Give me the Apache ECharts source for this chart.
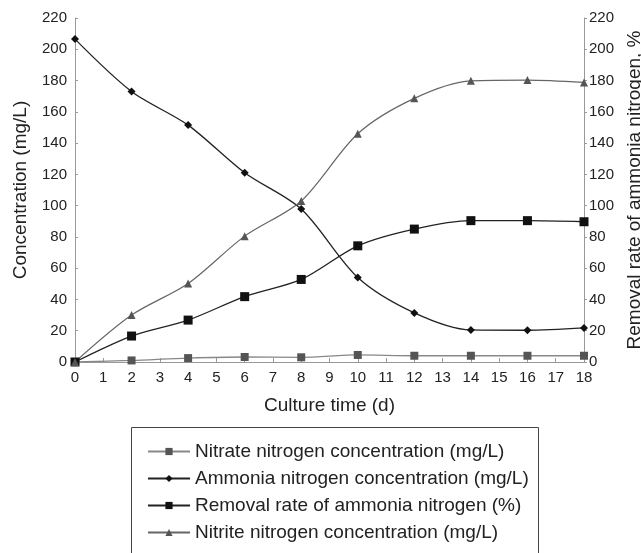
<!DOCTYPE html>
<html><head><meta charset="utf-8">
<script src="https://cdn.jsdelivr.net/npm/echarts@6/dist/echarts.min.js"></script>
<style>html,body{margin:0;padding:0;background:#fff}#c{width:641px;height:553px}</style>
</head><body><div id="c"></div>
<script>
const days = [0, 2, 4, 6, 8, 10, 12, 14, 16, 18];
const nitrate = [0, 1, 2.5, 3.2, 3, 4.5, 4, 4, 4, 4];
const ammonia = [206.5, 173, 151.5, 121, 97.8, 54, 31.4, 20.5, 20.3, 21.8];
const removal = [0, 16.6, 26.8, 41.8, 52.8, 74.3, 85, 90.4, 90.4, 89.7];
const nitrite = [0, 30, 50.2, 80.5, 103, 146, 168.6, 179.8, 180.3, 178.8];
const names = [
  'Nitrate nitrogen concentration (mg/L)',
  'Ammonia nitrogen concentration (mg/L)',
  'Removal rate of ammonia nitrogen (%)',
  'Nitrite nitrogen concentration (mg/L)'
];
const pairs = a => days.map((d, i) => [d, a[i]]);
const font = 'Liberation Sans, Arial, sans-serif';
const axisColor = '#999';
const textColor = '#222';
const chart = echarts.init(document.getElementById('c'), null, {renderer: 'canvas'});
function mk(name, data, color, symbol, size, yIdx, lineColor, width) {
  return {
    name, type: 'line', data: pairs(data), yAxisIndex: yIdx, smooth: 0.3,
    symbol, symbolSize: size, showSymbol: true,
    itemStyle: {color}, lineStyle: {color: lineColor, width},
    emphasis: {disabled: true}, z: 3
  };
}
chart.setOption({
  animation: false,
  textStyle: {fontFamily: font},
  grid: {left: 75, right: 57, top: 18, bottom: 191, outerBoundsMode: 'none', containLabel: false},
  xAxis: {
    type: 'value', min: 0, max: 18, interval: 1,
    name: 'Culture time (d)', nameLocation: 'middle', nameGap: 34,
    nameTextStyle: {fontSize: 19, color: textColor, fontFamily: font},
    axisLine: {lineStyle: {color: axisColor}},
    axisTick: {inside: true, length: 4, lineStyle: {color: axisColor}},
    axisLabel: {fontSize: 15, color: textColor, fontFamily: font, margin: 8},
    splitLine: {show: false}
  },
  yAxis: [{
    type: 'value', min: 0, max: 220, interval: 20,
    name: 'Concentration (mg/L)', nameLocation: 'middle', nameGap: 45,
    nameTextStyle: {fontSize: 19, color: textColor, fontFamily: font},
    axisLine: {show: true, lineStyle: {color: axisColor}},
    axisTick: {show: true, inside: true, length: 3, lineStyle: {color: axisColor}},
    axisLabel: {fontSize: 15, color: textColor, fontFamily: font, margin: 8},
    splitLine: {show: false}
  }, {
    type: 'value', min: 0, max: 220, interval: 20, position: 'right',
    name: 'Removal rate of ammonia nitrogen, %', nameLocation: 'middle', nameGap: 39, nameRotate: 90,
    nameTextStyle: {fontSize: 19, color: textColor, fontFamily: font},
    axisLine: {show: true, lineStyle: {color: axisColor}},
    axisTick: {show: true, length: 3, lineStyle: {color: axisColor}},
    axisLabel: {fontSize: 15, color: textColor, fontFamily: font, margin: 5},
    splitLine: {show: false}
  }],
  legend: {
    orient: 'vertical', left: 142, top: 437, padding: 5,
    itemWidth: 42, itemHeight: 9, itemGap: 8,
    textStyle: {fontSize: 19, lineHeight: 19, color: textColor, fontFamily: font},
    data: names
  },
  graphic: [{
    type: 'rect', shape: {x: 131.5, y: 427.5, width: 407, height: 140},
    style: {fill: 'none', stroke: '#444', lineWidth: 1}, silent: true
  }],
  series: [
    mk(names[0], nitrate, '#555', 'rect', 8, 0, '#888', 1.3),
    mk(names[1], ammonia, '#111', 'diamond', 8, 0, '#222', 1.3),
    mk(names[2], removal, '#111', 'rect', 9, 1, '#222', 1.3),
    mk(names[3], nitrite, '#555', 'triangle', 8, 0, '#666', 1.2)
  ]
});
</script></body></html>
